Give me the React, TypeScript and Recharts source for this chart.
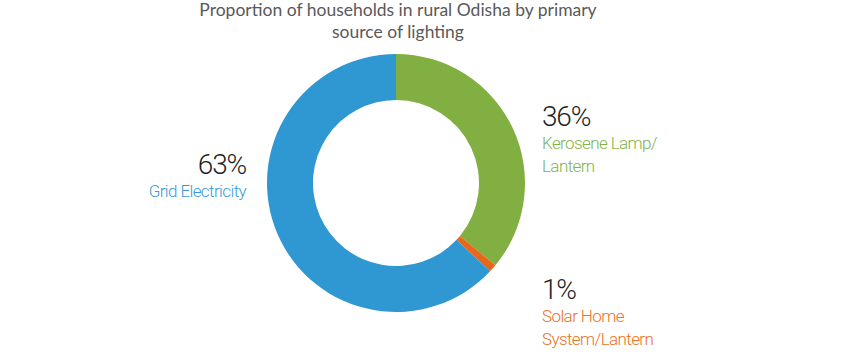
import React from "react";
import { PieChart, Pie, Cell } from "recharts";

const categories = ["Kerosene Lamp/Lantern", "Solar Home System/Lantern", "Grid Electricity"];
const shares = [36, 1, 63];
const labelLines = [["Kerosene Lamp/", "Lantern"], ["Solar Home", "System/Lantern"], ["Grid Electricity"]];
const titleLines = ["Proportion of households in rural Odisha by primary", "source of lighting"];

const sliceColors = ["#82AF41", "#E8681B", "#2F97D2"];
const textColors = ["#82B347", "#EA7125", "#3A9AD9"];

// label anchor offsets from the pie centre
const labelOffsets = [
  { dx: 146, dy: -57, anchor: "start" },
  { dx: 146, dy: 116, anchor: "start" },
  { dx: -150, dy: -9, anchor: "end" },
];

const data = categories.map((name, i) => ({ name, value: shares[i] }));

const renderLabel = (props: any) => {
  const { cx, cy, index, value } = props;
  const o = labelOffsets[index];
  const x = cx + o.dx;
  const y = cy + o.dy;
  return (
    <g>
      <text
        x={x}
        y={y}
        textAnchor={o.anchor}
        fill="#231F20"
        fontFamily="Roboto, sans-serif"
        fontWeight={300}
        fontSize={28}
        letterSpacing={-1.2}
      >
        {value}%
      </text>
      {labelLines[index].map((line, j) => (
        <text
          key={j}
          x={x}
          y={y + 23 + j * 22.5}
          textAnchor={o.anchor}
          fill={textColors[index]}
          fontFamily="Roboto, sans-serif"
          fontWeight={300}
          fontSize={17}
          letterSpacing={-0.6}
        >
          {line}
        </text>
      ))}
    </g>
  );
};

export default function App() {
  return (
    <div style={{ position: "fixed", left: 0, top: 0, width: 850, height: 363, background: "#fff" }}>
      <PieChart width={850} height={363} margin={{ top: 0, right: 0, bottom: 0, left: 0 }}>
        {titleLines.map((t, i) => (
          <text
            key={t}
            x={398}
            y={15.5 + i * 22}
            textAnchor="middle"
            fill="#595959"
            fontFamily="Lato, sans-serif"
            fontSize={17.5}
          >
            {t}
          </text>
        ))}
        <Pie
          data={data}
          dataKey="value"
          nameKey="name"
          cx={396}
          cy={183}
          innerRadius={83}
          outerRadius={129}
          startAngle={90}
          endAngle={-270}
          stroke="none"
          label={renderLabel}
          labelLine={false}
          isAnimationActive={false}
        >
          {data.map((d, i) => (
            <Cell key={d.name} fill={sliceColors[i]} />
          ))}
        </Pie>
      </PieChart>
    </div>
  );
}
